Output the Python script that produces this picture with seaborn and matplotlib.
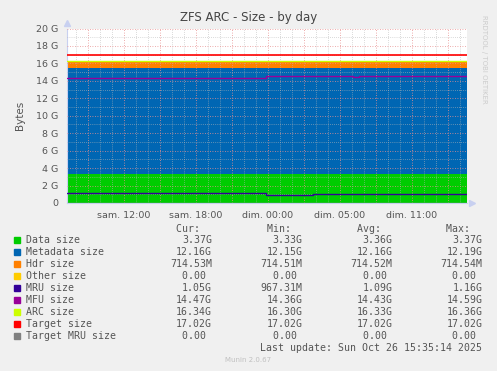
import matplotlib
matplotlib.use("Agg")
import matplotlib.pyplot as plt
import seaborn as sns
import pandas as pd
import numpy as np

# ---------------- data ----------------
# segment boundaries, in hours since Saturday 00:00 (real elapsed time)
breaks_h = [7.25, 23.8, 24.6, 27.75, 31.1, 31.6, 40.58]
data_size = [3.37, 3.37, 3.33, 3.37, 3.37, 3.37]
metadata_size = [12.16, 12.16, 12.15, 12.16, 12.16, 12.16]
hdr_size = [0.698, 0.698, 0.698, 0.698, 0.698, 0.698]
other_size = [0.0, 0.0, 0.0, 0.0, 0.0, 0.0]
mru_size = [1.16, 0.945, 0.945, 1.05, 1.05, 1.05]
mfu_size = [14.38, 14.57, 14.57, 14.57, 14.45, 14.55]
arc_size = [16.33, 16.33, 16.33, 16.33, 16.33, 16.33]
target_size = [17.02, 17.02, 17.02, 17.02, 17.02, 17.02]
target_mru_size = [0.0, 0.0, 0.0, 0.0, 0.0, 0.0]

xtick_pos = [12, 18, 24, 30, 36]
xtick_labels = ["sam. 12:00", "sam. 18:00", "dim. 00:00", "dim. 05:00", "dim. 11:00"]
ytick_pos = [0, 2, 4, 6, 8, 10, 12, 14, 16, 18, 20]
ytick_labels = ["0", "2 G", "4 G", "6 G", "8 G", "10 G", "12 G", "14 G", "16 G", "18 G", "20 G"]

legend_names = ["Data size", "Metadata size", "Hdr size", "Other size", "MRU size",
                "MFU size", "ARC size", "Target size", "Target MRU size"]
legend_colors = ["#00CC00", "#0066B3", "#FF8000", "#FFCC00", "#330099",
                 "#990099", "#CCFF00", "#FF0000", "#808080"]
cur_vals = ["3.37G", "12.16G", "714.53M", "0.00 ", "1.05G", "14.47G", "16.34G", "17.02G", "0.00 "]
min_vals = ["3.33G", "12.15G", "714.51M", "0.00 ", "967.31M", "14.36G", "16.30G", "17.02G", "0.00 "]
avg_vals = ["3.36G", "12.16G", "714.52M", "0.00 ", "1.09G", "14.43G", "16.33G", "17.02G", "0.00 "]
max_vals = ["3.37G", "12.19G", "714.54M", "0.00 ", "1.16G", "14.59G", "16.36G", "17.02G", "0.00 "]


def ext(v):
    return list(v) + [v[-1]]


df = pd.DataFrame({
    "hour": breaks_h,
    "data": ext(data_size),
    "meta": ext(metadata_size),
    "hdr": ext(hdr_size),
    "other": ext(other_size),
    "mru": ext(mru_size),
    "mfu": ext(mfu_size),
    "arc": ext(arc_size),
    "target": ext(target_size),
    "tmru": ext(target_mru_size),
})

# ---------------- figure ----------------
sns.set_theme(style="white")
plt.rcParams["font.family"] = ["DejaVu Sans"]
BG = "#F0F0F0"
fig = plt.figure(figsize=(4.97, 3.71), dpi=100, facecolor=BG)
ax = fig.add_axes([67 / 497, 1 - 203 / 371, 400 / 497, (203 - 28.5) / 371])
ax.set_facecolor("white")

x = df["hour"].values
base = np.zeros(len(x))
stack_cols = ["data", "meta", "hdr", "other"]
for col, colr in zip(stack_cols, legend_colors[:4]):
    top = base + df[col].values
    ax.fill_between(x, base, top, step="post", color=colr, linewidth=0, zorder=2)
    base = top

line_cols = [("mru", legend_colors[4], 1.0), ("mfu", legend_colors[5], 1.0),
             ("arc", legend_colors[6], 1.0), ("target", legend_colors[7], 1.2),
             ("tmru", legend_colors[8], 1.0)]
for col, colr, lw in line_cols:
    sns.lineplot(data=df, x="hour", y=col, ax=ax, color=colr, linewidth=lw,
                 drawstyle="steps-post", zorder=4, legend=False, estimator=None)

ax.set_xlim(breaks_h[0], breaks_h[-1])
ax.set_ylim(0, 20)

# grid
for h in np.arange(8, 41, 1):
    if h % 3 == 0:
        ax.axvline(h, color="#E89090", lw=0.6, ls=(0, (1, 2)), zorder=3)
    else:
        ax.axvline(h, color="#B8B8B8", lw=0.5, ls=(0, (1, 2)), zorder=3)
for g in range(1, 21):
    if g % 2 == 0:
        ax.axhline(g, color="#E89090", lw=0.6, ls=(0, (1, 2)), zorder=3)
    else:
        ax.axhline(g, color="#B8B8B8", lw=0.5, ls=(0, (1, 2)), zorder=3)

ax.set_xticks(xtick_pos)
ax.set_xticklabels(xtick_labels)
ax.set_yticks(ytick_pos)
ax.set_yticklabels(ytick_labels)
ax.tick_params(axis="both", labelsize=6.8, colors="#555555", length=2, width=0.6, pad=4)
ax.tick_params(axis="x", colors="#E06060", labelcolor="#555555")
ax.tick_params(axis="y", colors="#E06060", labelcolor="#555555")
ax.set_xlabel("")
ax.set_ylabel("Bytes", fontsize=7.5, color="#555555", labelpad=8)

for s in ["top", "right"]:
    ax.spines[s].set_visible(False)
for s in ["left", "bottom"]:
    ax.spines[s].set_color("#C8D0F0")
    ax.spines[s].set_linewidth(0.8)
ax.plot([1.012], [0], marker=">", color="#C8D0F0", markersize=4, transform=ax.transAxes, clip_on=False)
ax.plot([0], [1.03], marker="^", color="#C8D0F0", markersize=4, transform=ax.transAxes, clip_on=False)

fig.text(0.5, 1 - 18 / 371, "ZFS ARC - Size - by day", ha="center", va="center",
         fontsize=8.5, color="#444444")
fig.text(484 / 497, 1 - 15 / 371, "RRDTOOL / TOBI OETIKER", rotation=270, ha="center", va="top",
         fontsize=5, color="#CCCCCC")

# legend table
mono = "DejaVu Sans Mono"
fs = 7.1
hdr_y = 228.5
fig.text(212 / 497, 1 - hdr_y / 371, "Cur:  ", ha="right", va="center", family=mono, fontsize=fs, color="#555555")
fig.text(302.7 / 497, 1 - hdr_y / 371, "Min:  ", ha="right", va="center", family=mono, fontsize=fs, color="#555555")
fig.text(392.7 / 497, 1 - hdr_y / 371, "Avg:  ", ha="right", va="center", family=mono, fontsize=fs, color="#555555")
fig.text(482.3 / 497, 1 - hdr_y / 371, "Max:  ", ha="right", va="center", family=mono, fontsize=fs, color="#555555")
for i, name in enumerate(legend_names):
    yy = 1 - (240 + 12 * i) / 371
    fig.patches.append(plt.Rectangle((14 / 497, yy - 2.8 / 371), 5.5 / 497, 5.5 / 371,
                                     transform=fig.transFigure, color=legend_colors[i], figure=fig))
    fig.text(26 / 497, yy, name, ha="left", va="center", family=mono, fontsize=fs, color="#555555")
    for xr, vals in zip([212, 302.7, 392.7, 482.3], [cur_vals, min_vals, avg_vals, max_vals]):
        fig.text(xr / 497, yy, vals[i], ha="right", va="center", family=mono, fontsize=fs, color="#555555")
fig.text(482.3 / 497, 1 - 348 / 371, "Last update: Sun Oct 26 15:35:14 2025", ha="right", va="center",
         family=mono, fontsize=fs, color="#555555")
fig.text(248 / 497, 1 - 360 / 371, "Munin 2.0.67", ha="center", va="center", fontsize=5, color="#C0C0C0")

fig.savefig("out.png", dpi=100, facecolor=BG)
